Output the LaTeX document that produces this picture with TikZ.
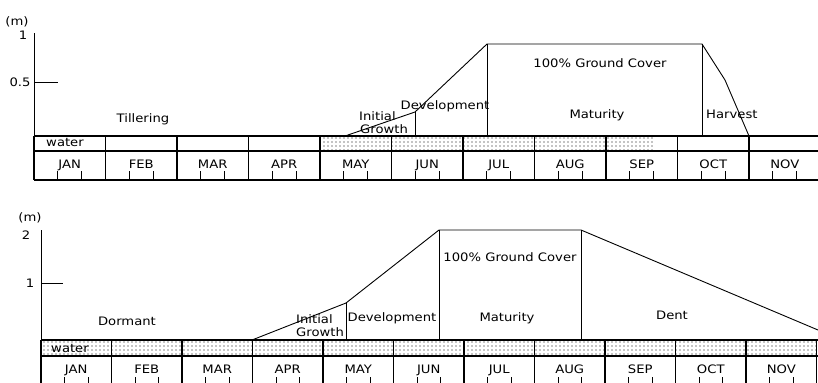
\documentclass[tikz,border=0pt]{standalone}
\usepackage{fontspec}
\setmainfont[FakeStretch=1.13]{DejaVu Sans}
\usetikzlibrary{patterns}
\pgfdeclarepatternformonly{mydots}{\pgfqpoint{-1pt}{-1pt}}{\pgfqpoint{1pt}{1pt}}{\pgfqpoint{4bp}{4bp}}{\pgfpathcircle{\pgfqpoint{0pt}{0pt}}{0.65bp}\pgfusepath{fill}}
\tikzset{
  lbl/.style={font=\fontsize{11.7}{14}\selectfont, inner sep=0pt, anchor=base},
  lbll/.style={lbl, anchor=base west},
  ln/.style={line width=0.9bp, black},
  rowln/.style={line width=1.2bp, black},
  dotfill/.style={pattern=mydots, pattern color=black},
}
\begin{document}
\begin{tikzpicture}[x=1bp,y=-1bp]
\useasboundingbox (0,0) rectangle (818,382);
\clip (0,0) rectangle (818,382);
% ================= TOP CHART =================
\fill[dotfill] (320,136) rectangle (606,151);
\fill[dotfill] (606,136) rectangle (654,151);
\draw[ln] (34,33) -- (34,180);
\draw[ln] (34,82) -- (58,82);
\node[lbl] (tm) at (17,25) {(m)};
\node[lbl] (t1) at (23,39) {1};
\node[lbl] (t05) at (20,86) {0.5};
\foreach \y in {136,151,180} \draw[rowln] (34,\y) -- (818,\y);
\foreach [count=\k from 0] \m in {JAN,FEB,MAR,APR,MAY,JUN,JUL,AUG,SEP,OCT,NOV} {
  \pgfmathsetmacro{\xa}{34+71.5*\k}
  \draw[rowln] (\xa,136) -- (\xa,180);
  \draw[ln] ({\xa+23.8},171) -- ({\xa+23.8},180);
  \draw[ln] ({\xa+47.7},171) -- ({\xa+47.7},180);
  \node[lbl] (tmon\k) at ({\xa+35.75},168) {\m};
}
% crop profile
\draw[ln] (345,136) -- (415,112) -- (487,44) -- (702,44) -- (725,80) -- (749,136);
\draw[ln] (415,112) -- (415,136);
\draw[ln] (487,44) -- (487,136);
\draw[ln] (702,44) -- (702,136);
\node[lbl] (ttill) at (143,122) {Tillering};
\node[lbl] (twater) at (65,146) {water};
\node[lbll] (tinit) at (359,120) {Initial};
\node[lbll] (tgrow) at (360,133) {Growth};
\node[lbl] (tdev) at (445,109) {Development};
\node[lbl] (tgc) at (600,67) {100\% Ground Cover};
\node[lbl] (tmat) at (597,118) {Maturity};
\node[lbll] (tharv) at (706,118) {Harvest};
% ================= BOTTOM CHART =================
\fill[dotfill] (41,340) rectangle (818,356);
\draw[ln] (41,230) -- (41,390);
\draw[ln] (41,283) -- (63,283);
\node[lbl] (bm) at (30,221) {(m)};
\node[lbl] (b2) at (26,239) {2};
\node[lbl] (b1) at (30,287) {1};
\foreach \y in {340,356} \draw[rowln] (41,\y) -- (818,\y);
\foreach [count=\k from 0] \m in {JAN,FEB,MAR,APR,MAY,JUN,JUL,AUG,SEP,OCT,NOV} {
  \pgfmathsetmacro{\xa}{41+70.5*\k}
  \draw[rowln] (\xa,340) -- (\xa,390);
  \draw[ln] ({\xa+23.5},377) -- ({\xa+23.5},390);
  \draw[ln] ({\xa+47},377) -- ({\xa+47},390);
  \node[lbl] (bmon\k) at ({\xa+35.25},373) {\m};
}
\draw[rowln] (816.5,340) -- (816.5,390);
% crop profile
\draw[ln] (252,340) -- (346,303) -- (439,230) -- (581,230) -- (818,330);
\draw[ln] (346,303) -- (346,340);
\draw[ln] (439,230) -- (439,340);
\draw[ln] (581,230) -- (581,340);
\node[lbl] (bdorm) at (127,325) {Dormant};
\node[lbl] (bwater) at (70,352) {water};
\node[lbll] (binit) at (296,323) {Initial};
\node[lbll] (bgrow) at (296,336) {Growth};
\node[lbl] (bdev) at (392,321) {Development};
\node[lbl] (bgc) at (510,261) {100\% Ground Cover};
\node[lbl] (bmat) at (507,321) {Maturity};
\node[lbl] (bdent) at (672,319) {Dent};
\end{tikzpicture}
\end{document}
